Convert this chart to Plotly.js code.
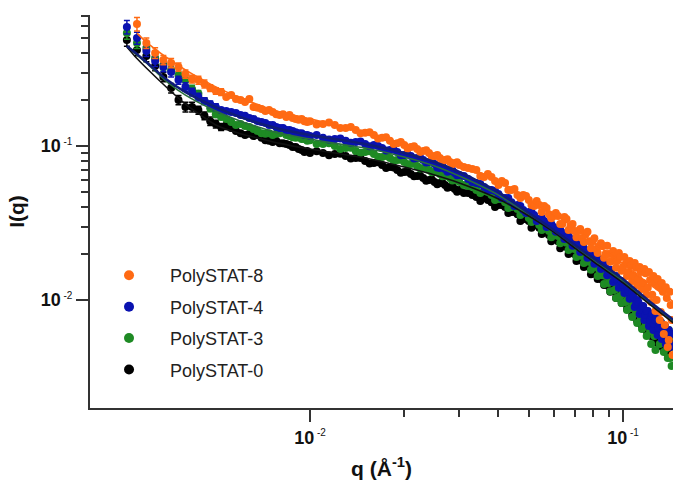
<!DOCTYPE html>
<html>
<head>
<meta charset="utf-8">
<script src="https://cdn.plot.ly/plotly-3.0.1.min.js"></script>
<style>
html,body{margin:0;padding:0;background:#fff;}
#chart{width:673px;height:487px;}
</style>
</head>
<body>
<div id="chart"></div>
<script>
// shared q grid (Å^-1)
const q = [
 0.0026,0.0028,0.0030,0.0032,0.0034,0.0036,0.0038,0.0040,0.0042,0.0044,
 0.0046,0.0048,0.0050,0.0052,0.0054,0.0056,0.0058,0.0060,0.0062,0.0064,
 0.0066,0.0068,0.0070,0.0072,0.0074,0.0076,0.0078,0.0080,0.0082,0.0084,
 0.0086,0.0088,0.0090,0.0092,0.0094,0.0096,0.0098,0.0100,
 0.0105,0.011,0.0115,0.012,0.0125,0.013,0.0135,0.014,0.0145,0.015,
 0.0155,0.016,0.0165,0.017,0.0175,0.018,0.0185,0.019,0.0195,0.020,
 0.0205,0.021,0.0215,0.022,0.0225,0.023,0.0235,0.024,0.0245,0.025,
 0.0255,0.026,0.0265,0.027,0.0275,0.028,0.0285,0.029,0.0295,0.030,
 0.031,0.032,0.033,0.034,0.035,0.036,0.037,0.038,0.039,0.040,
 0.041,0.042,0.043,0.044,0.045,0.046,0.047,0.048,0.049,0.050,
 0.051,0.052,0.053,0.054,0.055,0.056,0.057,0.058,0.059,0.060,
 0.061,0.062,0.063,0.064,0.065,0.066,0.067,0.068,0.069,0.070,
 0.071,0.072,0.073,0.074,0.075,0.076,0.077,0.078,0.079,0.080,
 0.081,0.082,0.083,0.084,0.085,0.086,0.087,0.088,0.089,0.090,
 0.091,0.092,0.093,0.094,0.095,0.096,0.097,0.098,0.099,0.100,
 0.101,0.102,0.103,0.104,0.105,0.106,0.107,0.108,0.109,0.110,
 0.111,0.112,0.113,0.114,0.115,0.116,0.117,0.118,0.119,0.120,
 0.121,0.122,0.123,0.124,0.125,0.126,0.127,0.128,0.129,0.130,
 0.131,0.132,0.133,0.134,0.135,0.136,0.137,0.138,0.139,0.140,
 0.141,0.142,0.143,0.144
];

const I_ps8 = [
 null,0.620,0.466,0.402,0.362,0.346,0.326,0.293,0.272,0.268,
 0.253,0.238,0.228,0.224,0.208,0.214,0.202,0.199,0.193,0.202,
 0.179,0.177,0.174,0.169,0.171,0.166,0.161,0.159,0.161,0.154,
 0.159,0.152,0.150,0.148,0.150,0.145,0.143,0.145,
 0.138,0.139,0.142,0.137,0.131,0.131,0.133,0.127,0.121,0.122,
 0.123,0.118,0.112,0.113,0.114,0.108,0.103,0.104,0.106,0.1015,
 0.0965,0.0985,0.0995,0.0956,0.0915,0.0928,0.0940,0.0901,0.0855,0.0861,
 0.0875,0.0836,0.0800,0.0811,0.0820,0.0787,0.0760,0.0776,0.0785,0.0753,
 0.0731,0.0719,0.0708,0.0698,0.0638,0.0629,0.0658,0.0629,0.0592,0.0558,
 0.0592,0.0575,0.0518,0.0518,0.0526,0.0480,0.0460,0.0480,0.0473,0.0446,
 0.0414,0.0408,0.0439,0.0414,0.0373,0.0408,0.0396,0.0361,0.0340,0.0351,
 0.0367,0.0351,0.0312,0.0312,0.0346,0.0336,0.0285,0.0303,0.0312,0.0281,
 0.0256,0.0281,0.0289,0.0253,0.0238,0.0268,0.0277,0.0241,0.0217,0.0241,
 0.0252,0.0214,0.0202,0.0224,0.0234,0.0224,0.0188,0.0199,0.0225,0.0199,
 0.0177,0.0179,0.0208,0.0193,0.0162,0.0179,0.0202,0.0190,0.0155,0.0164,
 0.0190,0.0172,0.0143,0.0152,0.0179,0.0167,0.0133,0.0145,0.0174,0.0162,
 0.0125,0.0137,0.0164,0.0152,0.0118,0.0129,0.0159,0.0149,0.0108,0.0120,
 0.0152,0.0135,0.00971,0.0108,0.0143,0.0129,0.00848,0.0100,0.0137,0.0122,
 0.00741,0.00835,0.0129,0.0113,0.00601,0.00688,0.0121,0.0103,0.00495,0.00550,
 0.0113,0.00928,0.00741,0.00439
];
const E_ps8 = [0,0.062,0.037,0.032,0.025,0.024,0.020,0.018,0.016,0.016,0.015,0.012,0.011,0.011];

const I_ps4 = [
 0.593,0.503,0.414,0.356,0.326,0.302,0.268,0.242,0.224,0.208,
 0.196,0.187,0.179,0.171,0.169,0.166,0.164,0.159,0.157,0.152,
 0.150,0.145,0.143,0.141,0.137,0.137,0.133,0.131,0.131,0.127,
 0.127,0.125,0.123,0.121,0.121,0.118,0.118,0.116,
 0.118,0.113,0.110,0.111,0.112,0.108,0.105,0.106,0.107,0.103,
 0.0995,0.1015,0.1000,0.0970,0.0935,0.0942,0.0945,0.0914,0.0870,0.0874,
 0.0885,0.0861,0.0830,0.0836,0.0840,0.0811,0.0780,0.0787,0.0795,0.0764,
 0.0725,0.0720,0.0735,0.0709,0.0680,0.0688,0.0695,0.0668,0.0645,0.0648,
 0.0638,0.0610,0.0584,0.0575,0.0566,0.0542,0.0518,0.0518,0.0510,0.0488,
 0.0460,0.0460,0.0460,0.0432,0.0408,0.0414,0.0408,0.0384,0.0367,0.0373,
 0.0373,0.0356,0.0326,0.0336,0.0341,0.0326,0.0298,0.0303,0.0312,0.0298,
 0.0277,0.0281,0.0285,0.0273,0.0249,0.0253,0.0260,0.0249,0.0225,0.0231,
 0.0238,0.0228,0.0205,0.0211,0.0217,0.0208,0.0188,0.0193,0.0199,0.0190,
 0.0172,0.0179,0.0188,0.0177,0.0159,0.0164,0.0174,0.0162,0.0145,0.0150,
 0.0157,0.0147,0.0131,0.0137,0.0143,0.0135,0.0120,0.0125,0.0133,0.0125,
 0.0111,0.0113,0.0123,0.0116,0.0102,0.0103,0.0111,0.0105,0.00901,0.00942,
 0.0100,0.00971,0.00811,0.00861,0.00914,0.00914,0.00741,0.00799,0.00848,0.00848,
 0.00678,0.00741,0.00787,0.00811,0.00638,0.00698,0.00741,0.00763,0.00592,0.00657,
 0.00698,0.00719,0.00559,0.00610,0.00657,0.00678,0.00517,0.00567,0.00628,0.00638,
 0.00495,0.00510,0.00601,0.00601
];
const E_ps4 = [0.059,0.045,0.033,0.028,0.023,0.021,0.016,0.015,0.013,0.012,0.010,0.009,0.009];

const I_ps3 = [
 0.542,0.466,0.433,0.373,0.336,0.312,0.289,0.268,0.234,0.218,
 0.196,0.176,0.161,0.154,0.150,0.143,0.137,0.139,0.135,0.133,
 0.129,0.125,0.121,0.120,0.121,0.118,0.120,0.121,0.123,0.118,
 0.116,0.114,0.113,0.114,0.111,0.111,0.108,0.109,
 0.103,0.103,0.104,0.100,0.0955,0.0970,0.0975,0.0928,0.0905,0.0914,
 0.0925,0.0887,0.0850,0.0849,0.0860,0.0836,0.0805,0.0811,0.0815,0.0787,
 0.0760,0.0764,0.0770,0.0742,0.0715,0.0719,0.0725,0.0698,0.0675,0.0678,
 0.0685,0.0658,0.0635,0.0638,0.0645,0.0620,0.0598,0.0601,0.0605,0.0584,
 0.0558,0.0550,0.0542,0.0518,0.0495,0.0510,0.0503,0.0480,0.0446,0.0453,
 0.0453,0.0432,0.0396,0.0402,0.0408,0.0390,0.0356,0.0367,0.0367,0.0341,
 0.0321,0.0336,0.0331,0.0307,0.0285,0.0303,0.0302,0.0281,0.0256,0.0268,
 0.0277,0.0260,0.0234,0.0241,0.0252,0.0235,0.0211,0.0218,0.0228,0.0214,
 0.0190,0.0199,0.0208,0.0193,0.0174,0.0185,0.0190,0.0177,0.0157,0.0169,
 0.0177,0.0164,0.0143,0.0157,0.0162,0.0145,0.0127,0.0143,0.0145,0.0129,
 0.0114,0.0131,0.0133,0.0116,0.0103,0.0122,0.0121,0.0106,0.00957,0.0113,
 0.0113,0.00971,0.00861,0.0105,0.0105,0.00886,0.00775,0.00957,0.00971,0.00823,
 0.00709,0.00914,0.00901,0.00763,0.00648,0.00874,0.00835,0.00688,0.00583,0.00835,
 0.00775,0.00628,0.00517,0.00799,0.00741,0.00583,0.00473,0.00752,0.00698,0.00638,
 0.00517,0.00719,0.00657,0.00550,0.00459,0.00678,0.00619,0.00488,0.00420,0.00638,
 0.00583,0.00420,0.00373,0.00583
];
const E_ps3 = [0.049,0.037,0.035,0.026,0.024,0.019,0.017,0.016,0.014,0.011,0.010,0.009,0.008];

const I_ps0 = [
 0.488,0.420,0.384,0.331,0.281,0.238,0.199,0.179,0.179,0.171,
 0.157,0.145,0.139,0.133,0.135,0.131,0.125,0.121,0.118,0.120,
 0.116,0.118,0.113,0.109,0.108,0.106,0.108,0.104,0.104,0.103,
 0.1015,0.0985,0.0985,0.0956,0.0942,0.0914,0.0928,0.0901,
 0.0925,0.0901,0.0870,0.0887,0.0890,0.0861,0.0830,0.0836,0.0835,0.0799,
 0.0770,0.0776,0.0785,0.0753,0.0720,0.0730,0.0725,0.0698,0.0670,0.0678,
 0.0680,0.0658,0.0635,0.0638,0.0640,0.0620,0.0595,0.0601,0.0605,0.0584,
 0.0565,0.0575,0.0575,0.0558,0.0535,0.0542,0.0545,0.0526,0.0505,0.0518,
 0.0495,0.0495,0.0480,0.0467,0.0439,0.0460,0.0446,0.0432,0.0402,0.0414,
 0.0414,0.0402,0.0367,0.0373,0.0373,0.0361,0.0326,0.0336,0.0336,0.0326,
 0.0294,0.0307,0.0307,0.0294,0.0268,0.0277,0.0281,0.0264,0.0241,0.0249,
 0.0256,0.0241,0.0217,0.0224,0.0234,0.0221,0.0199,0.0205,0.0211,0.0199,
 0.0179,0.0188,0.0193,0.0179,0.0164,0.0174,0.0177,0.0164,0.0147,0.0159,
 0.0164,0.0147,0.0137,0.0152,0.0152,0.0135,0.0125,0.0137,0.0139,0.0123,
 0.0113,0.0129,0.0129,0.0113,0.0103,0.0120,0.0118,0.0105,0.00957,0.0111,
 0.0110,0.00957,0.00874,0.0103,0.0102,0.00886,0.00799,0.00971,0.00928,0.00835,
 0.00730,0.00914,0.00861,0.00775,0.00678,0.00861,0.00799,0.00719,0.00628,0.00799,
 0.00752,0.00678,0.00583,0.00752,0.00698,0.00628,0.00534,0.00708,0.00648,0.00592,
 0.00502,0.00668,0.00610,0.00559,0.00473,0.00628,0.00575,0.00534,0.00446,0.00592,
 0.00542,0.00495,0.00426,0.00559
];
const E_ps0 = [0.044,0.034,0.031,0.023,0.020,0.017,0.014,0.013,0.013,0.010,0.009,0.009,0.008,0.007,0.007];

// model fits
const qFit = [0.0026,0.0028,0.0030,0.0035,0.0040,0.0050,0.0060,0.0070,0.0080,0.010,0.012,0.015,0.020,0.025,0.030,0.040,0.050,0.060,0.070,0.080,0.100,0.120,0.145];
const fit_ps8 = [null,0.541,0.473,0.373,0.312,0.242,0.205,0.182,0.166,0.150,0.137,0.123,0.103,0.0887,0.0764,0.0592,0.0453,0.0361,0.0294,0.0238,0.0172,0.0129,0.00971];
const fit_ps4 = [0.446,0.395,0.351,0.268,0.224,0.179,0.154,0.139,0.129,0.118,0.111,0.103,0.0901,0.0787,0.0678,0.0503,0.0367,0.0285,0.0228,0.0188,0.0137,0.0100,0.00741];
const fit_ps3 = [0.440,0.389,0.346,0.260,0.214,0.169,0.145,0.131,0.121,0.111,0.104,0.0970,0.0849,0.0742,0.0638,0.0480,0.0356,0.0277,0.0221,0.0182,0.0133,0.00971,0.00719];
const fit_ps0 = [0.440,0.370,0.321,0.238,0.187,0.137,0.120,0.111,0.104,0.0956,0.0901,0.0836,0.0730,0.0648,0.0575,0.0453,0.0351,0.0277,0.0218,0.0179,0.0129,0.00957,0.00708];

const names = ['PolySTAT-8','PolySTAT-4','PolySTAT-3','PolySTAT-0'];
const colors = ['#FF6A13','#0A12B0','#1E8A24','#000000'];
const fitColors = ['#FF6A13','#101C78','#2A6E3C','#111111'];
const series = [I_ps8,I_ps4,I_ps3,I_ps0];
const errs = [E_ps8,E_ps4,E_ps3,E_ps0];
const fits = [fit_ps8,fit_ps4,fit_ps3,fit_ps0];

const traces = [];
[3,2,1,0].forEach(function(k){
  traces.push({
    x:q, y:series[k], type:'scatter', mode:'markers', showlegend:false,
    marker:{color:colors[k], size:8, line:{width:0}},
    error_y:{type:'data', array:errs[k], visible:true, color:colors[k], thickness:1.5, width:3}
  });
});
[0,2,3,1].forEach(function(k){
  traces.push({
    x:qFit, y:fits[k], type:'scatter', mode:'lines', showlegend:false,
    line:{color:fitColors[k], width:(k===1?2.5:1.6), shape:'spline', smoothing:0.6}
  });
});
[0,1,2,3].forEach(function(k){
  traces.push({
    x:[null], y:[null], type:'scatter', mode:'markers', name:names[k],
    legendgroup:'g'+k, marker:{color:colors[k], size:10}
  });
});

function sup(e){return '<b>10</b><sup><span style="font-size:10px"> '+e+'</span></sup>';}

const FONT = 'Liberation Sans';
const axisCommon = {
  type:'log', showline:true, linecolor:'#333', linewidth:2,
  ticks:'outside', ticklen:12, tickwidth:1.6, tickcolor:'#333',
  showgrid:false, zeroline:false, tickmode:'array',
  tickfont:{family:FONT, size:18, color:'#111'}
};

const layout = {
  width:673, height:487,
  margin:{l:90, r:0, t:15, b:79},
  paper_bgcolor:'#fff', plot_bgcolor:'#fff',
  showlegend:true,
  font:{family:FONT, size:18, color:'#111'},
  xaxis:Object.assign({}, axisCommon, {
    range:[-2.7029,-0.8403],
    tickvals:[0.01,0.1], ticktext:[sup('-2'),sup('-1')],
    minor:{tickmode:'array', tickvals:[0.02,0.03,0.04,0.05,0.06,0.07,0.08,0.09], ticks:'outside', ticklen:7, tickwidth:1.6, tickcolor:'#333'},
    title:{text:'<b>q (Å<sup>-1</sup>)</b>', font:{family:FONT, size:21, color:'#111'}, standoff:15}
  }),
  yaxis:Object.assign({}, axisCommon, {
    range:[-2.7013,-0.1494],
    tickvals:[0.01,0.1], ticktext:[sup('-2'),sup('-1')],
    minor:{tickmode:'array', tickvals:[0.02,0.03,0.04,0.05,0.06,0.07,0.08,0.09,0.2,0.3,0.4,0.5,0.6,0.7], ticks:'outside', ticklen:7, tickwidth:1.6, tickcolor:'#333'},
    title:{text:'<b>I(q)</b>', font:{family:FONT, size:21, color:'#111'}, standoff:10}
  }),
  legend:{
    x:-0.0034, xanchor:'left', y:0.384, yanchor:'top',
    bgcolor:'rgba(0,0,0,0)', borderwidth:0,
    font:{family:FONT, size:18, color:'#222'},
    tracegroupgap:5, itemwidth:72
  },
  hovermode:false
};

Plotly.newPlot('chart', traces, layout, {displayModeBar:false, responsive:false});
</script>
</body>
</html>
